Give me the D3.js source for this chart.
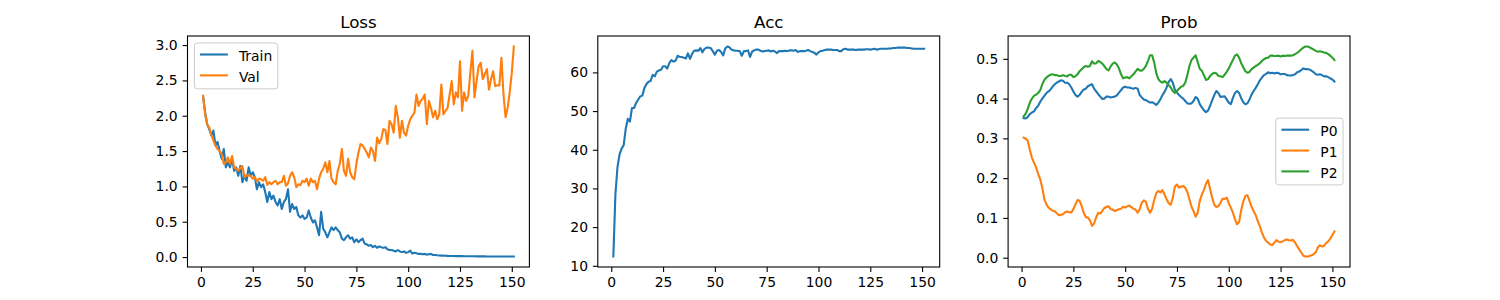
<!DOCTYPE html>
<html lang="en">
<head>
    <meta charset="UTF-8">
    <title>training curves</title>
    <style>
        body { margin: 0; background: #fff; }
        #chart { font-family: "DejaVu Sans", sans-serif; }
        .tick line { stroke: #000; stroke-width: 1.1px; }
        .tick text { fill: #000; font-size: 13.9px; font-family: "DejaVu Sans", sans-serif; }
        .frame { fill: none; stroke: #000; stroke-width: 1.1px; }
        .line { fill: none; stroke-width: 2.1px; stroke-linejoin: round; stroke-linecap: square; }
        .title { font-size: 16.7px; text-anchor: middle; fill: #000; }
        .legend-box { fill: #fff; fill-opacity: 0.8; stroke: #ccc; stroke-width: 1px; }
        .legend text { font-size: 13.9px; fill: #000; }
    </style>
    <script src="https://d3js.org/d3.v7.min.js"></script>
</head>
<body>
    <div id="chart"></div>
    <script>
        // epochs 1..151
        const epochs = d3.range(1, 152);

        const trainLoss = [
            2.28, 2.05, 1.88, 1.81, 1.72, 1.79, 1.58, 1.63, 1.50, 1.39,
            1.53, 1.27, 1.34, 1.27, 1.39, 1.22, 1.27, 1.15, 1.29, 1.06,
            1.15, 1.08, 1.27, 1.15, 1.20, 1.13, 0.96, 1.06, 0.99, 1.03,
            0.92, 0.78, 0.92, 0.82, 0.87, 0.78, 0.73, 0.82, 0.68, 0.78,
            0.82, 0.96, 0.64, 0.75, 0.68, 0.71, 0.59, 0.56, 0.59, 0.54,
            0.56, 0.66, 0.56, 0.49, 0.52, 0.42, 0.31, 0.64, 0.40, 0.35,
            0.28, 0.35, 0.42, 0.38, 0.42, 0.38, 0.35, 0.26, 0.24, 0.28,
            0.31, 0.26, 0.28, 0.21, 0.25, 0.21, 0.24, 0.26, 0.19, 0.18,
            0.16, 0.17, 0.14, 0.16, 0.13, 0.15, 0.14, 0.13, 0.14, 0.11,
            0.10, 0.10, 0.09, 0.08, 0.10, 0.08, 0.07, 0.08, 0.06, 0.07,
            0.09, 0.05, 0.06, 0.055, 0.045, 0.045, 0.04, 0.045, 0.035, 0.04,
            0.045, 0.03, 0.03, 0.025, 0.022, 0.02, 0.02, 0.018, 0.017, 0.016,
            0.015, 0.015, 0.014, 0.014, 0.013, 0.013, 0.012, 0.012, 0.012, 0.011,
            0.011, 0.011, 0.010, 0.010, 0.010, 0.010, 0.010, 0.009, 0.009, 0.009,
            0.009, 0.009, 0.009, 0.008, 0.008, 0.008, 0.008, 0.008, 0.008, 0.008,
            0.008
        ];

        const valLoss = [
            2.28, 2.02, 1.88, 1.83, 1.73, 1.65, 1.58, 1.53, 1.50, 1.46,
            1.32, 1.34, 1.41, 1.32, 1.43, 1.27, 1.25, 1.22, 1.26, 1.29,
            1.13, 1.16, 1.15, 1.15, 1.11, 1.13, 1.07, 1.11, 1.10, 1.08,
            1.13, 1.02, 1.06, 1.03, 1.06, 1.08, 1.03, 1.06, 1.06, 1.15,
            1.01, 1.04, 1.15, 1.20, 1.13, 0.99, 1.03, 1.02, 1.08, 1.06,
            1.11, 1.01, 1.11, 1.06, 1.08, 0.96, 1.11, 1.20, 1.25, 1.34,
            1.20, 1.36, 1.11, 1.06, 1.03, 1.22, 1.32, 1.53, 1.22, 1.15,
            1.39, 1.20, 1.13, 1.10, 1.32, 1.48, 1.60, 1.58, 1.53, 1.48,
            1.41, 1.55, 1.50, 1.36, 1.69, 1.61, 1.67, 1.81, 1.80, 1.60,
            1.93, 1.88, 1.76, 2.14, 1.98, 1.69, 1.93, 1.76, 1.72, 1.86,
            1.95, 2.00, 2.04, 2.30, 2.14, 2.21, 2.24, 2.30, 1.88, 2.21,
            2.11, 1.98, 2.07, 1.95, 2.02, 2.44, 2.02, 2.07, 2.11, 2.30,
            2.49, 2.16, 2.33, 2.26, 2.77, 2.07, 2.33, 2.21, 2.28, 2.61,
            2.92, 2.26, 2.49, 2.70, 2.75, 2.52, 2.59, 2.66, 2.37, 2.52,
            2.63, 2.42, 2.43, 2.43, 2.82, 2.30, 1.98, 2.11, 2.33, 2.61,
            2.98
        ];

        const accuracy = [
            12.4, 28.5, 35.5, 38.8, 40.3, 41.2, 45.5, 48.0, 47.3, 50.8,
            50.8, 52.1, 53.0, 53.8, 54.0, 56.0, 57.0, 57.6, 57.8, 59.4,
            59.0, 60.2, 60.5, 60.7, 61.6, 61.6, 61.0, 62.4, 63.2, 62.8,
            63.0, 64.3, 64.0, 64.0, 63.8, 63.6, 64.9, 63.5, 64.8, 65.6,
            65.7, 65.6, 66.3, 65.2, 66.1, 66.4, 66.4, 66.3, 65.5, 64.6,
            65.6, 65.8, 65.3, 64.4, 66.2, 66.7, 66.5, 65.9, 65.7, 65.6,
            65.6, 65.5, 64.3, 65.5, 65.5, 65.7, 64.0, 65.4, 65.7, 65.9,
            65.9, 65.6, 65.4, 65.5, 65.6, 65.7, 65.4, 65.6, 65.4, 65.0,
            65.5, 65.5, 65.5, 65.6, 65.5, 65.7, 65.7, 65.6, 65.8, 65.3,
            65.5, 65.5, 65.5, 65.6, 65.8, 65.5, 65.3, 65.1, 64.6, 65.2,
            65.5, 65.6, 65.8, 65.9, 65.9, 65.9, 65.8, 65.8, 65.8, 65.5,
            65.5, 66.0, 66.1, 65.9, 65.9, 65.9, 65.9, 65.8, 65.9, 65.9,
            65.9, 65.9, 66.0, 66.0, 65.9, 66.0, 66.1, 65.9, 66.0, 66.1,
            66.1, 66.1, 66.1, 66.2, 66.2, 66.3, 66.3, 66.4, 66.4, 66.4,
            66.4, 66.4, 66.3, 66.3, 66.2, 66.1, 66.1, 66.1, 66.1, 66.1,
            66.1
        ];

        const probP0 = [
            0.351, 0.350, 0.354, 0.361, 0.365, 0.368, 0.376, 0.382, 0.392, 0.400,
            0.407, 0.414, 0.418, 0.423, 0.430, 0.436, 0.440, 0.443, 0.446, 0.445,
            0.440, 0.440, 0.436, 0.428, 0.418, 0.409, 0.405, 0.409, 0.417, 0.423,
            0.425, 0.431, 0.434, 0.436, 0.425, 0.418, 0.411, 0.405, 0.399, 0.400,
            0.405, 0.405, 0.403, 0.404, 0.405, 0.408, 0.415, 0.421, 0.428, 0.430,
            0.428, 0.428, 0.426, 0.425, 0.427, 0.425, 0.409, 0.403, 0.398, 0.396,
            0.393, 0.390, 0.391, 0.388, 0.384, 0.390, 0.398, 0.409, 0.417, 0.428,
            0.442, 0.449, 0.440, 0.422, 0.415, 0.409, 0.404, 0.400, 0.394, 0.388,
            0.387, 0.388, 0.394, 0.404, 0.400, 0.386, 0.378, 0.371, 0.366, 0.370,
            0.382, 0.396, 0.409, 0.419, 0.414, 0.404, 0.405, 0.406, 0.398, 0.390,
            0.386, 0.402, 0.414, 0.419, 0.414, 0.401, 0.391, 0.386, 0.388, 0.398,
            0.410, 0.419, 0.427, 0.436, 0.446, 0.453, 0.459, 0.462, 0.466, 0.464,
            0.465, 0.463, 0.465, 0.464, 0.461, 0.462, 0.462, 0.459, 0.458, 0.458,
            0.459, 0.461, 0.466, 0.468, 0.472, 0.476, 0.474, 0.474, 0.473, 0.470,
            0.466, 0.461, 0.460, 0.461, 0.459, 0.456, 0.456, 0.454, 0.451, 0.448,
            0.443
        ];

        const probP1 = [
            0.302, 0.299, 0.294, 0.271, 0.251, 0.239, 0.227, 0.211, 0.197, 0.176,
            0.147, 0.134, 0.126, 0.122, 0.118, 0.117, 0.112, 0.107, 0.108, 0.109,
            0.114, 0.116, 0.114, 0.114, 0.122, 0.134, 0.145, 0.143, 0.130, 0.113,
            0.102, 0.101, 0.094, 0.080, 0.086, 0.101, 0.113, 0.111, 0.118, 0.125,
            0.128, 0.129, 0.122, 0.121, 0.117, 0.120, 0.122, 0.123, 0.128, 0.126,
            0.129, 0.131, 0.127, 0.123, 0.121, 0.113, 0.122, 0.138, 0.144, 0.141,
            0.123, 0.113, 0.123, 0.145, 0.162, 0.168, 0.164, 0.170, 0.159, 0.147,
            0.137, 0.133, 0.151, 0.179, 0.184, 0.176, 0.179, 0.180, 0.176, 0.165,
            0.147, 0.128, 0.117, 0.103, 0.113, 0.143, 0.159, 0.170, 0.186, 0.195,
            0.172, 0.151, 0.133, 0.127, 0.130, 0.138, 0.148, 0.148, 0.151, 0.137,
            0.126, 0.113, 0.097, 0.084, 0.090, 0.120, 0.141, 0.155, 0.157, 0.143,
            0.128, 0.117, 0.107, 0.092, 0.079, 0.063, 0.051, 0.042, 0.038, 0.033,
            0.032, 0.038, 0.044, 0.040, 0.039, 0.041, 0.044, 0.046, 0.044, 0.043,
            0.045, 0.038, 0.029, 0.021, 0.013, 0.005, 0.003, 0.003, 0.004, 0.006,
            0.009, 0.014, 0.026, 0.031, 0.028, 0.030, 0.037, 0.041, 0.048, 0.057,
            0.066
        ];

        const probP2 = [
            0.355, 0.362, 0.375, 0.390, 0.400, 0.407, 0.410, 0.414, 0.421, 0.436,
            0.447, 0.453, 0.457, 0.460, 0.461, 0.459, 0.459, 0.457, 0.457, 0.459,
            0.457, 0.456, 0.460, 0.460, 0.454, 0.456, 0.461, 0.469, 0.474, 0.479,
            0.482, 0.480, 0.482, 0.494, 0.488, 0.489, 0.495, 0.492, 0.488, 0.481,
            0.474, 0.471, 0.481, 0.488, 0.491, 0.486, 0.476, 0.461, 0.451, 0.453,
            0.454, 0.451, 0.456, 0.461, 0.468, 0.475, 0.471, 0.470, 0.475, 0.482,
            0.495, 0.509, 0.509, 0.491, 0.464, 0.449, 0.443, 0.440, 0.444, 0.440,
            0.434, 0.428, 0.419, 0.414, 0.419, 0.425, 0.430, 0.432, 0.440, 0.459,
            0.482, 0.497, 0.503, 0.509, 0.492, 0.475, 0.470, 0.459, 0.447, 0.449,
            0.457, 0.462, 0.465, 0.463, 0.457, 0.456, 0.454, 0.460, 0.467, 0.476,
            0.487, 0.497, 0.508, 0.511, 0.503, 0.489, 0.479, 0.469, 0.465, 0.467,
            0.474, 0.478, 0.482, 0.485, 0.489, 0.495, 0.499, 0.502, 0.503, 0.508,
            0.508, 0.507, 0.507, 0.508, 0.506, 0.508, 0.507, 0.508, 0.508, 0.508,
            0.509, 0.512, 0.515, 0.519, 0.524, 0.528, 0.531, 0.531, 0.529, 0.526,
            0.523, 0.520, 0.518, 0.519, 0.518, 0.516, 0.515, 0.512, 0.508, 0.503,
            0.497
        ];

        // tick labels
        const xTicks = [0, 25, 50, 75, 100, 125, 150];
        const lossTicks = [0.0, 0.5, 1.0, 1.5, 2.0, 2.5, 3.0];
        const accTicks = [10, 20, 30, 40, 50, 60];
        const probTicks = [0.0, 0.1, 0.2, 0.3, 0.4, 0.5];

        // figure layout (matplotlib default subplot params)
        const width = 1500, height = 300;
        const axTop = 36, axHeight = 231, axWidth = 341.9;
        const axLefts = [187.5, 597.8, 1008.1];
        const fs = 13.9;
        const blue = "#1f77b4", orange = "#ff7f0e", green = "#2ca02c";

        const panels = [
            { title: "Loss", yTicks: lossTicks, fmt: d3.format(".1f"), legend: "upper left",
              series: [{ name: "Train", values: trainLoss, color: blue },
                       { name: "Val", values: valLoss, color: orange }] },
            { title: "Acc", yTicks: accTicks, fmt: d3.format("d"), legend: null,
              series: [{ name: "Acc", values: accuracy, color: blue }] },
            { title: "Prob", yTicks: probTicks, fmt: d3.format(".1f"), legend: "center right",
              series: [{ name: "P0", values: probP0, color: blue },
                       { name: "P1", values: probP1, color: orange },
                       { name: "P2", values: probP2, color: green }] }
        ];

        // 5% margins like matplotlib autoscale
        function padded([a, b]) {
            const m = (b - a) * 0.05;
            return [a - m, b + m];
        }

        const svg = d3.select("#chart")
            .append("svg")
            .attr("width", width)
            .attr("height", height);

        svg.append("rect").attr("width", width).attr("height", height).attr("fill", "#fff");

        panels.forEach((p, i) => {
            const g = svg.append("g")
                .attr("transform", `translate(${axLefts[i]},${axTop})`);

            const x = d3.scaleLinear()
                .domain(padded(d3.extent(epochs)))
                .range([0, axWidth]);

            const y = d3.scaleLinear()
                .domain(padded(d3.extent(p.series.flatMap(s => s.values))))
                .range([axHeight, 0]);

            // X axis
            g.append("g")
                .attr("transform", `translate(0,${axHeight})`)
                .call(d3.axisBottom(x).tickValues(xTicks).tickFormat(d3.format("d"))
                    .tickSize(4.9).tickPadding(4.9))
                .call(a => a.select(".domain").remove());

            // Y axis
            g.append("g")
                .call(d3.axisLeft(y).tickValues(p.yTicks).tickFormat(p.fmt)
                    .tickSize(4.9).tickPadding(4.9))
                .call(a => a.select(".domain").remove());

            g.selectAll(".tick text").attr("font-size", null).attr("font-family", null);

            const line = d3.line()
                .x((d, j) => x(epochs[j]))
                .y(d => y(d));

            g.selectAll(".line")
                .data(p.series)
                .enter().append("path")
                .attr("class", "line")
                .attr("d", d => line(d.values))
                .style("stroke", d => d.color);

            g.append("rect")
                .attr("class", "frame")
                .attr("width", axWidth)
                .attr("height", axHeight);

            g.append("text")
                .attr("class", "title")
                .attr("x", axWidth / 2)
                .attr("y", -8.3)
                .text(p.title);

            if (p.legend) drawLegend(g, p.series, p.legend);
        });

        function drawLegend(g, series, loc) {
            const pad = 0.4 * fs, handle = 2 * fs, gap = 0.8 * fs;
            const rowH = fs, spacing = 0.5 * fs, margin = 0.5 * fs;

            const leg = g.append("g").attr("class", "legend");
            const box = leg.append("rect").attr("class", "legend-box").attr("rx", 2.8);

            const rows = leg.selectAll(".row")
                .data(series)
                .enter().append("g")
                .attr("class", "row");

            rows.append("line")
                .attr("x1", 0).attr("x2", handle)
                .attr("y1", 6).attr("y2", 6)
                .attr("stroke", d => d.color)
                .attr("stroke-width", 2.1);

            const labels = rows.append("text")
                .attr("x", handle + gap)
                .attr("y", 0.89 * fs)
                .text(d => d.name);

            const textW = d3.max(labels.nodes(), n => n.getComputedTextLength());
            const bw = 2 * pad + handle + gap + textW;
            const bh = 2 * pad + series.length * rowH + (series.length - 1) * spacing;

            let bx, by;
            if (loc === "upper left") {
                bx = margin; by = margin;
            } else {
                bx = axWidth - margin - bw; by = (axHeight - bh) / 2;
            }

            box.attr("x", bx).attr("y", by).attr("width", bw).attr("height", bh);
            rows.attr("transform", (d, k) =>
                `translate(${bx + pad},${by + pad + k * (rowH + spacing)})`);
        }
    </script>
</body>
</html>
